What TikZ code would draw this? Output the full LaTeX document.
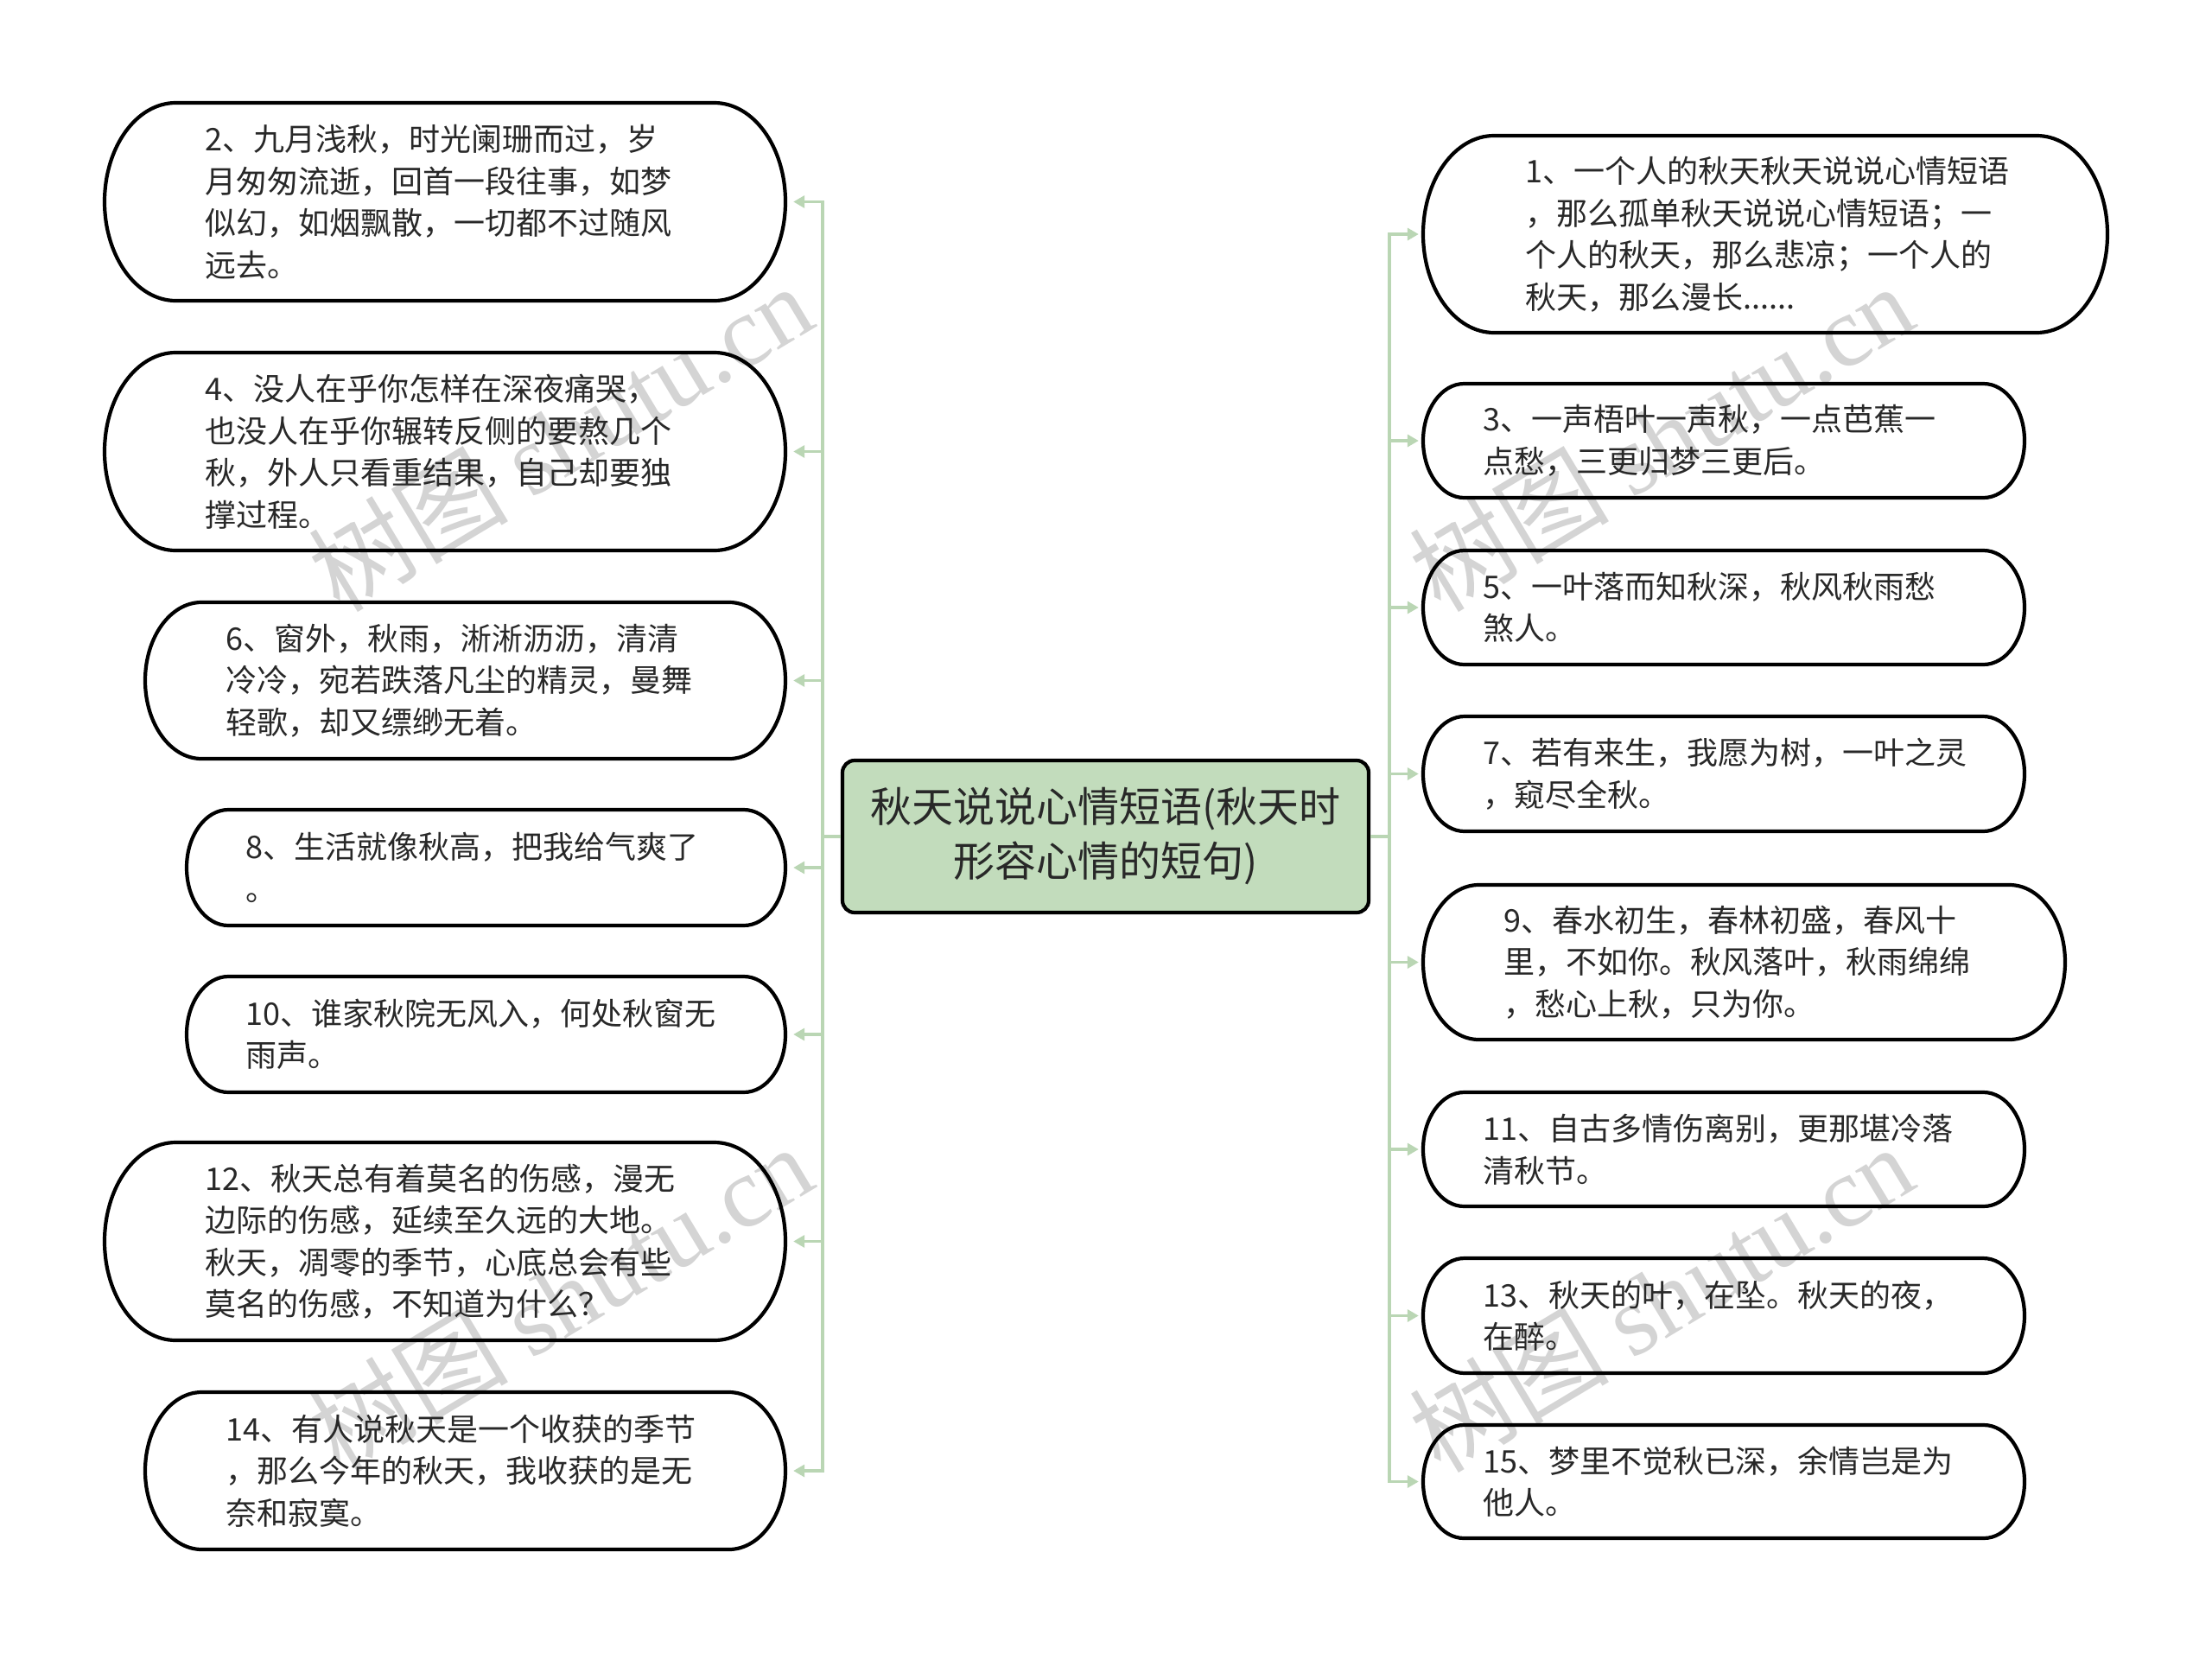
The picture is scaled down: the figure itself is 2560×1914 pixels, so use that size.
\documentclass[tikz,border=0pt]{standalone}
\usepackage{fontspec}
\setmainfont{Noto Sans CJK SC}
\newfontfamily\wmfont{Liberation Serif}
\usetikzlibrary{arrows.meta}
\definecolor{connc}{RGB}{186,214,180}
\definecolor{cfill}{RGB}{194,220,188}
\definecolor{txtc}{RGB}{40,40,40}
\definecolor{wmc}{RGB}{212,212,212}
\tikzset{
  boxline/.style={draw=black,line width=4.2pt},
  linkl/.style={draw=connc,line width=3.4pt,-{Triangle[length=13pt,width=14pt]},shorten >=9pt},
  linkr/.style={draw=connc,line width=3.4pt,-{Triangle[length=13pt,width=14pt]},shorten >=5pt},
  txt/.style={anchor=west,align=left,inner sep=0pt,text=txtc,font=\fontsize{36pt}{48.5pt}\selectfont},
  wm/.style={text=wmc,rotate=31,font=\fontsize{116pt}{116pt}\selectfont,inner sep=0pt},
}
% name, cx, cy (image coords, down), w, h
\newcommand\stadium[5]{%
  \pgfmathsetmacro\sL{#2-#4/2}\pgfmathsetmacro\sR{#2+#4/2}%
  \pgfmathsetmacro\sT{-(#3)+#5/2}\pgfmathsetmacro\sB{-(#3)-#5/2}%
  \pgfmathsetmacro\sRy{#5/2}\pgfmathsetmacro\sRx{0.36*#5}%
  \node[draw=none,minimum width=#4pt,minimum height=#5pt,inner sep=0pt] (#1) at (#2,-#3) {};
  \draw[boxline] (\sL+\sRx,\sT) -- (\sR-\sRx,\sT)
    arc[start angle=90,end angle=-90,x radius=\sRx pt,y radius=\sRy pt]
    -- (\sL+\sRx,\sB)
    arc[start angle=270,end angle=90,x radius=\sRx pt,y radius=\sRy pt] -- cycle;
}
\begin{document}
\begin{tikzpicture}[x=1pt,y=1pt]
\fill[white] (0,0) rectangle (2560,-1914);
\useasboundingbox (0,0) rectangle (2560,-1914);

% watermarks
\node[wm] (w1) at (648,-506) {树图 {\wmfont shutu.cn}};
\node[wm] (w2) at (648,-1502) {树图 {\wmfont shutu.cn}};
\node[wm] (w3) at (1922,-506) {树图 {\wmfont shutu.cn}};
\node[wm] (w4) at (1922,-1502) {树图 {\wmfont shutu.cn}};

% centre
\node[draw=black,line width=4.2pt,fill=cfill,rounded corners=14pt,minimum width=609pt,minimum height=176pt,inner sep=0pt,align=center,text=txtc,font=\fontsize{48pt}{63pt}\selectfont] (c) at (1279.5,-968) {秋天说说心情短语(秋天时\\形容心情的短句)};

% left boxes
\stadium{l1}{515}{233.5}{788}{229}
\stadium{l2}{515}{522.5}{788}{229}
\stadium{l3}{538.5}{787.5}{741}{181}
\stadium{l4}{562.5}{1004}{693}{134}
\stadium{l5}{562.5}{1197}{693}{134}
\stadium{l6}{515}{1436.5}{788}{229}
\stadium{l7}{538.5}{1702}{741}{182}

% right boxes
\stadium{r1}{2043}{271}{792}{228}
\stadium{r2}{1995}{510}{696}{132}
\stadium{r3}{1995}{703}{696}{132}
\stadium{r4}{1995}{895.5}{696}{133}
\stadium{r5}{2018.5}{1113.5}{743}{179}
\stadium{r6}{1995}{1330}{696}{132}
\stadium{r7}{1995}{1522.5}{696}{133}
\stadium{r8}{1995}{1714.5}{696}{131}

% texts left
\node[txt] (tl1) at (237,-233.5) {2、九月浅秋，时光阑珊而过，岁\\月匆匆流逝，回首一段往事，如梦\\似幻，如烟飘散，一切都不过随风\\远去。};
\node[txt] (tl2) at (237,-522.5) {4、没人在乎你怎样在深夜痛哭，\\也没人在乎你辗转反侧的要熬几个\\秋，外人只看重结果，自己却要独\\撑过程。};
\node[txt] (tl3) at (261,-787.5) {6、窗外，秋雨，淅淅沥沥，清清\\冷冷，宛若跌落凡尘的精灵，曼舞\\轻歌，却又缥缈无着。};
\node[txt] (tl4) at (284,-1004) {8、生活就像秋高，把我给气爽了\\。};
\node[txt] (tl5) at (284,-1197) {10、谁家秋院无风入，何处秋窗无\\雨声。};
\node[txt] (tl6) at (237,-1436.5) {12、秋天总有着莫名的伤感，漫无\\边际的伤感，延续至久远的大地。\\秋天，凋零的季节，心底总会有些\\莫名的伤感，不知道为什么？};
\node[txt] (tl7) at (261,-1702) {14、有人说秋天是一个收获的季节\\，那么今年的秋天，我收获的是无\\奈和寂寞。};

% texts right
\node[txt] (tr1) at (1765,-271) {1、一个人的秋天秋天说说心情短语\\，那么孤单秋天说说心情短语；一\\个人的秋天，那么悲凉；一个人的\\秋天，那么漫长......};
\node[txt] (tr2) at (1716,-510) {3、一声梧叶一声秋，一点芭蕉一\\点愁，三更归梦三更后。};
\node[txt] (tr3) at (1716,-703) {5、一叶落而知秋深，秋风秋雨愁\\煞人。};
\node[txt] (tr4) at (1716,-895.5) {7、若有来生，我愿为树，一叶之灵\\，窥尽全秋。};
\node[txt] (tr5) at (1740,-1113.5) {9、春水初生，春林初盛，春风十\\里，不如你。秋风落叶，秋雨绵绵\\，愁心上秋，只为你。};
\node[txt] (tr6) at (1716,-1330) {11、自古多情伤离别，更那堪冷落\\清秋节。};
\node[txt] (tr7) at (1716,-1522.5) {13、秋天的叶，在坠。秋天的夜，\\在醉。};
\node[txt] (tr8) at (1716,-1714.5) {15、梦里不觉秋已深，余情岂是为\\他人。};

% connectors
\coordinate (jl) at (952,-968);
\coordinate (jr) at (1608,-968);
\foreach \n in {l1,l2,l3,l4,l5,l6,l7}{
  \draw[linkl] (c.west) -- (jl) |- (\n.east);
}
\foreach \n in {r1,r2,r3,r4,r5,r6,r7,r8}{
  \draw[linkr] (c.east) -- (jr) |- (\n.west);
}
\end{tikzpicture}
\end{document}
